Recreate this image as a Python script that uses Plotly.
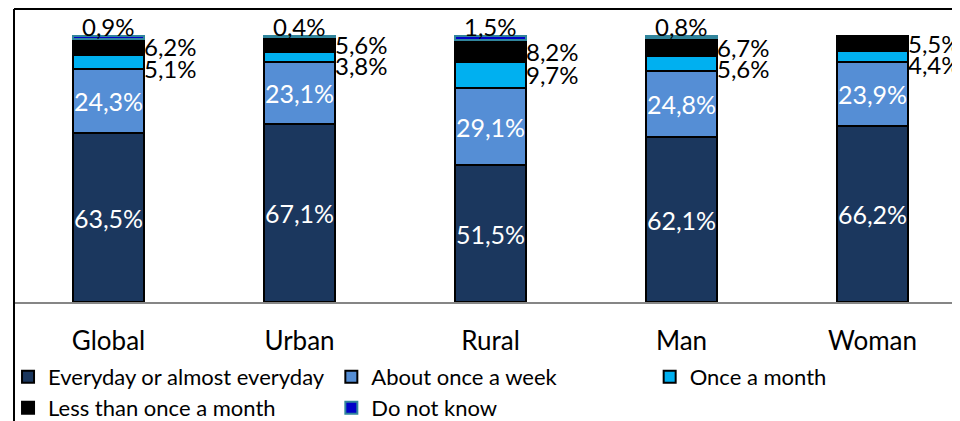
import plotly.graph_objects as go

# Share of respondents by frequency, per group (%)
categories = ["Global", "Urban", "Rural", "Man", "Woman"]
series_names = [
    "Everyday or almost everyday",
    "About once a week",
    "Once a month",
    "Less than once a month",
    "Do not know",
]
everyday = [63.5, 67.1, 51.5, 62.1, 66.2]
weekly = [24.3, 23.1, 29.1, 24.8, 23.9]
monthly = [5.1, 3.8, 9.7, 5.6, 4.4]
less_monthly = [6.2, 5.6, 8.2, 6.7, 5.5]
dont_know = [0.9, 0.4, 1.5, 0.8, 0.0]

_COLORS = ["#1b375e", "#558ed5", "#00b0f0", "#000000", "#0000c8"]
_FONT = "Lato, 'Open Sans', sans-serif"
_BAR_W = 0.37

# legend slot per series: (x in px from figure left, row)
_LEGEND_SLOTS = [(-5, 0), (320, 0), (640, 0), (-5, 1), (320, 1)]
_ROW_Y = [-0.256, -0.362]


def _fmt(v):
    return f"{v:.1f}".replace(".", ",") + "%"


fig = go.Figure()
all_series = [everyday, weekly, monthly, less_monthly, dont_know]
legends = {}
for idx, (name, vals, color) in enumerate(zip(series_names, all_series, _COLORS)):
    inside = idx < 2
    legend_id = "legend" if idx == 0 else f"legend{idx + 1}"
    fig.add_trace(go.Bar(
        x=categories,
        # zero-height segments are skipped so no outline is drawn for them
        y=[v if v > 0 else None for v in vals],
        name=name,
        width=_BAR_W,
        marker={
            "color": color,
            "line": {"color": "#31859c" if idx == 4 else "#000000", "width": 2},
        },
        text=[_fmt(v) for v in vals] if inside else None,
        textposition="inside" if inside else "none",
        insidetextanchor="middle",
        textangle=0,
        constraintext="none",
        textfont={"color": "white", "size": 25, "family": _FONT},
        legend=legend_id,
    ))
    lx, row = _LEGEND_SLOTS[idx]
    legends[legend_id] = {
        "orientation": "h", "x": (lx - 1) / 959, "y": _ROW_Y[row],
        "xanchor": "left", "yanchor": "middle",
        "font": {"size": 22}, "itemwidth": 30,
        "bgcolor": "rgba(0,0,0,0)",
    }

# Outside labels: "less than once a month" and "once a month" to the right,
# "do not know" above the bar
annotations = []
for i, cat in enumerate(categories):
    top = everyday[i] + weekly[i] + monthly[i] + less_monthly[i] + dont_know[i]
    black_c = top - dont_know[i] - less_monthly[i] / 2
    cyan_c = everyday[i] + weekly[i] + monthly[i] / 2
    cyan_y = min(cyan_c, black_c - 8)
    for val, yy in [(less_monthly[i], black_c), (monthly[i], cyan_y)]:
        annotations.append(dict(
            x=cat, y=yy, text=_fmt(val), showarrow=False,
            xanchor="left", yanchor="middle", xshift=33,
            font={"size": 24, "color": "black", "family": _FONT},
        ))
    if dont_know[i] > 0:
        annotations.append(dict(
            x=cat, y=top, text=_fmt(dont_know[i]), showarrow=False,
            xanchor="center", yanchor="bottom", yshift=-7,
            font={"size": 24, "color": "black", "family": _FONT},
        ))

# Chart frame (left and top edges)
shapes = [
    dict(type="line", xref="paper", yref="paper", x0=0, x1=1.01, y0=1, y1=1,
         line={"color": "black", "width": 2}),
    dict(type="line", xref="paper", yref="paper", x0=0, x1=0, y0=-0.45, y1=1,
         line={"color": "black", "width": 2}),
]

fig.update_layout(
    width=960,
    height=421,
    paper_bgcolor="white",
    plot_bgcolor="white",
    barmode="stack",
    bargap=0,
    margin={"l": 1, "r": 0, "t": 1, "b": 127},
    font={"family": _FONT, "color": "black"},
    xaxis={
        "range": [-0.5 + 1 / 192, 4.5],
        "showline": True,
        "linecolor": "#868686",
        "linewidth": 2,
        "ticks": "",
        "tickfont": {"size": 26},
        "ticklabelstandoff": 15,
        "fixedrange": True,
    },
    yaxis={"range": [0, 110.2], "visible": False, "showgrid": False},
    annotations=annotations,
    shapes=shapes,
    showlegend=True,
    **legends,
)

fig.write_html("out.html")
